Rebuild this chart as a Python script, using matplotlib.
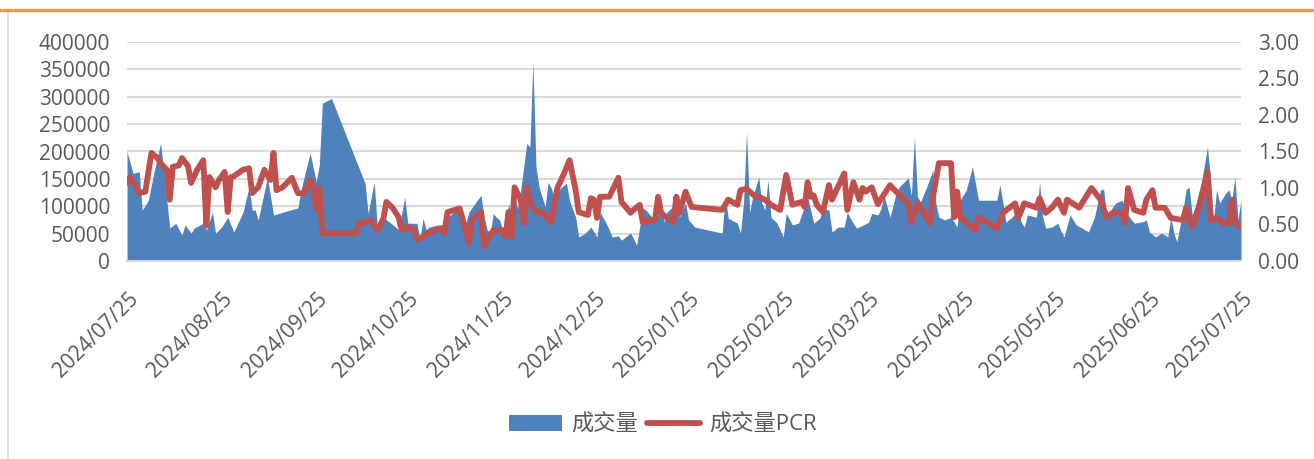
import matplotlib
matplotlib.use('Agg')
import matplotlib.pyplot as plt
from matplotlib.lines import Line2D
from matplotlib.patches import Patch
from matplotlib.transforms import ScaledTranslation
import pandas as pd

plt.rcParams['font.family'] = ['Open Sans', 'Noto Sans CJK SC', 'DejaVu Sans']

start = pd.Timestamp('2024-07-25')

# 成交量: day offset from 2024/07/25, value
vol_days = [0, 2, 4, 5, 7, 9, 11, 12, 14, 16, 18, 19, 21, 22, 25, 26, 28, 29, 31, 33, 35, 38, 40, 41, 42, 43,
            46, 48, 51, 56, 57, 60, 62, 63, 64, 67, 75, 78, 79, 81, 82, 84, 88, 89, 91, 92, 95, 96, 97, 98, 99,
            102, 104, 105, 107, 109, 111, 112, 114, 116, 117, 118, 119, 120, 121, 122, 123, 124, 125, 126, 127,
            128, 129, 131, 132, 133, 134, 135, 137, 138, 139, 140, 142, 144, 145, 147, 148, 150, 152, 154, 155,
            157, 159, 161, 162, 165, 167, 169, 170, 172, 174, 175, 176, 177, 179, 180, 181, 183, 184, 186, 195,
            196, 197, 200, 201, 202, 203, 204, 205, 207, 208, 209, 210, 211, 213, 215, 216, 218, 220, 222, 223,
            225, 227, 228, 230, 231, 233, 235, 236, 237, 239, 241, 243, 244, 246, 247, 248, 250, 252, 253, 256,
            257, 258, 259, 260, 262, 264, 265, 266, 268, 270, 272, 273, 275, 277, 279, 285, 286, 287, 288, 290,
            292, 293, 294, 295, 298, 299, 300, 301, 303, 305, 306, 307, 309, 311, 313, 315, 317, 318, 319, 320,
            321, 323, 324, 326, 327, 328, 330, 333, 334, 335, 337, 339, 341, 342, 343, 344, 346, 347, 348, 349,
            350, 352, 354, 355, 356, 357, 358, 360, 361, 362, 363, 364, 365]
vol = [200000, 160000, 163000, 93000, 111000, 166000, 215000, 166000, 60000, 69000, 47000, 66000, 51000, 60000,
       69000, 57000, 89000, 51000, 62000, 80000, 53000, 89000, 135000, 93000, 93000, 75000, 153000, 84000, 89000,
       97000, 130000, 197000, 145000, 175000, 288000, 297000, 184000, 142000, 87000, 144000, 62000, 80000, 62000,
       57000, 117000, 69000, 69000, 40000, 78000, 57000, 62000, 66000, 60000, 80000, 89000, 97000, 69000, 89000,
       105000, 120000, 80000, 57000, 50000, 87000, 80000, 75000, 60000, 44000, 105000, 80000, 117000, 95000,
       130000, 215000, 208000, 363000, 172000, 135000, 99000, 144000, 133000, 115000, 133000, 142000, 110000,
       80000, 44000, 50000, 62000, 44000, 89000, 69000, 44000, 46000, 38000, 51000, 29000, 97000, 93000, 80000,
       82000, 117000, 71000, 90000, 100000, 117000, 80000, 106000, 75000, 62000, 51000, 120000, 78000, 69000,
       51000, 106000, 236000, 89000, 117000, 153000, 106000, 93000, 148000, 80000, 69000, 44000, 87000, 66000,
       69000, 99000, 117000, 69000, 78000, 97000, 93000, 53000, 62000, 62000, 89000, 78000, 60000, 65000, 71000,
       87000, 84000, 95000, 120000, 80000, 124000, 135000, 152000, 120000, 226000, 117000, 108000, 135000,
       166000, 106000, 80000, 75000, 80000, 62000, 111000, 130000, 172000, 111000, 111000, 139000, 106000, 71000,
       80000, 93000, 71000, 62000, 84000, 80000, 144000, 80000, 60000, 62000, 69000, 55000, 44000, 84000, 66000,
       60000, 53000, 80000, 106000, 130000, 131000, 80000, 99000, 106000, 111000, 99000, 84000, 69000, 72000,
       75000, 53000, 44000, 51000, 44000, 80000, 51000, 35000, 93000, 130000, 135000, 84000, 99000, 142000,
       208000, 153000, 75000, 130000, 106000, 124000, 130000, 111000, 153000, 75000, 111000]

# 成交量PCR
pcr_days = [0, 1, 3, 4, 6, 8, 10, 11, 13, 14, 15, 17, 18, 20, 21, 23, 25, 26, 27, 29, 30, 32, 33, 34, 35, 38,
            40, 41, 43, 45, 47, 48, 49, 51, 54, 56, 58, 60, 61, 62, 63, 64, 75, 76, 77, 80, 82, 84, 85, 87, 89,
            90, 92, 94, 95, 97, 98, 100, 103, 104, 105, 109, 111, 112, 113, 116, 117, 118, 120, 123, 124, 125,
            126, 127, 129, 130, 131, 132, 134, 136, 139, 141, 143, 145, 147, 148, 151, 152, 153, 154, 155, 158,
            161, 162, 165, 166, 168, 169, 171, 173, 174, 175, 177, 179, 180, 181, 183, 185, 195, 197, 200, 201,
            203, 204, 206, 207, 209, 211, 214, 216, 218, 221, 222, 223, 224, 225, 226, 228, 230, 231, 235, 236,
            238, 240, 241, 242, 244, 246, 250, 252, 256, 257, 259, 260, 263, 264, 266, 270, 271, 272, 273, 278,
            279, 285, 287, 291, 292, 294, 298, 299, 301, 303, 305, 307, 308, 312, 316, 319, 321, 323, 326, 327,
            328, 330, 333, 334, 336, 337, 340, 342, 346, 347, 349, 351, 354, 355, 357, 359, 361, 362, 363, 365]
pcr = [1.07, 1.15, 1.01, 0.93, 0.95, 1.48, 1.41, 1.34, 1.25, 0.84, 1.29, 1.31, 1.41, 1.30, 1.07, 1.25, 1.38,
       0.49, 1.15, 1.01, 1.10, 1.22, 0.67, 1.15, 1.16, 1.25, 1.27, 0.93, 1.01, 1.25, 1.11, 1.48, 0.97, 1.01,
       1.14, 0.93, 0.93, 1.11, 1.01, 0.72, 1.00, 0.38, 0.38, 0.52, 0.52, 0.56, 0.42, 0.58, 0.81, 0.73, 0.60,
       0.42, 0.47, 0.42, 0.29, 0.33, 0.38, 0.40, 0.45, 0.38, 0.67, 0.72, 0.42, 0.25, 0.56, 0.67, 0.20, 0.29,
       0.42, 0.42, 0.33, 0.67, 0.33, 1.01, 0.84, 0.52, 1.01, 0.81, 0.67, 0.67, 0.53, 1.00, 1.18, 1.38, 0.97,
       0.67, 0.63, 0.86, 0.84, 0.59, 0.88, 0.88, 1.14, 0.81, 0.66, 0.70, 0.77, 0.53, 0.56, 0.56, 0.88, 0.66,
       0.59, 0.53, 0.88, 0.66, 0.95, 0.74, 0.70, 0.84, 0.77, 0.97, 0.99, 0.95, 0.88, 0.88, 0.84, 0.77, 0.70,
       1.18, 0.77, 0.81, 0.74, 1.08, 0.88, 0.90, 0.77, 0.67, 1.04, 0.84, 1.20, 0.70, 1.08, 0.84, 1.00, 0.95,
       1.01, 0.78, 1.04, 0.95, 0.79, 0.53, 0.79, 0.73, 0.52, 0.86, 1.34, 1.34, 0.60, 0.95, 0.60, 0.42, 0.60,
       0.45, 0.66, 0.79, 0.59, 0.79, 0.73, 0.86, 0.66, 0.73, 0.84, 0.66, 0.84, 0.73, 1.00, 0.84, 0.60, 0.66,
       0.66, 0.52, 1.00, 0.70, 0.66, 0.84, 0.97, 0.73, 0.73, 0.59, 0.56, 0.73, 0.47, 0.70, 1.22, 0.56, 0.59,
       0.52, 0.52, 0.84, 0.52, 0.47]

tick_dates = pd.date_range('2024-07-25', periods=13, freq=pd.DateOffset(months=1))

vol_dates = start + pd.to_timedelta(vol_days, unit='D')
pcr_dates = start + pd.to_timedelta(pcr_days, unit='D')

grey = '#595959'
fig = plt.figure(figsize=(13.14, 4.59), dpi=100)
ax = fig.add_axes([127/1314, 1-261/459, 1114/1314, 219/459])
ax2 = ax.twinx()

ax.fill_between(vol_dates, vol, 0, color='#4F81BD', lw=0)
ax2.plot(pcr_dates, pcr, color='#C0504D', lw=4.2, solid_joinstyle='round', solid_capstyle='round')

ax.set_xlim(start, start + pd.Timedelta(days=365))
ax.set_ylim(0, 400000)
ax.set_yticks(range(0, 400001, 50000))
ax2.set_ylim(0, 3)
ax2.set_yticks([0, 0.5, 1, 1.5, 2, 2.5, 3])
ax2.set_yticklabels(['%.2f' % v for v in [0, 0.5, 1, 1.5, 2, 2.5, 3]])

ax.set_axisbelow(True)
ax.yaxis.grid(True, color='#D9D9D9', lw=1.5)
for a in (ax, ax2):
    for s in a.spines.values():
        s.set_visible(False)
ax.spines['bottom'].set_visible(True)
ax.spines['bottom'].set_color('#D9D9D9')
ax.spines['bottom'].set_linewidth(1.5)

ax.tick_params(axis='y', length=0, pad=12, labelsize=15, labelcolor=grey)
ax2.tick_params(axis='y', length=0, pad=12, labelsize=15, labelcolor=grey)

ax.set_xticks(tick_dates)
ax.set_xticklabels([d.strftime('%Y/%m/%d') for d in tick_dates])
ax.tick_params(axis='x', length=0, pad=25, labelsize=15, labelcolor=grey)
for lab in ax.get_xticklabels():
    lab.set_rotation(45)
    lab.set_ha('right')
    lab.set_va('center')
    lab.set_rotation_mode('anchor')
    lab.set_transform(lab.get_transform() + ScaledTranslation(8/100, 0, fig.dpi_scale_trans))

# frame decorations
fig.add_artist(Line2D([0, 1], [1-9.5/459]*2, color='#F79646', lw=2.4))
fig.add_artist(Line2D([8/1314]*2, [0, 1-13/459], color='#D9D9D9', lw=1.2))

handles = [Patch(facecolor='#4F81BD', edgecolor='none'),
           Line2D([0], [0], color='#C0504D', lw=4.2, solid_capstyle='round')]
fig.legend(handles, ['成交量', '成交量PCR'], loc='center', bbox_to_anchor=(663/1314, 1-425/459),
           ncol=2, frameon=False, fontsize=16, labelcolor=grey, handlelength=2.4, handleheight=0.7,
           handletextpad=0.4, columnspacing=0.4)

fig.savefig('out.png', dpi=100)
